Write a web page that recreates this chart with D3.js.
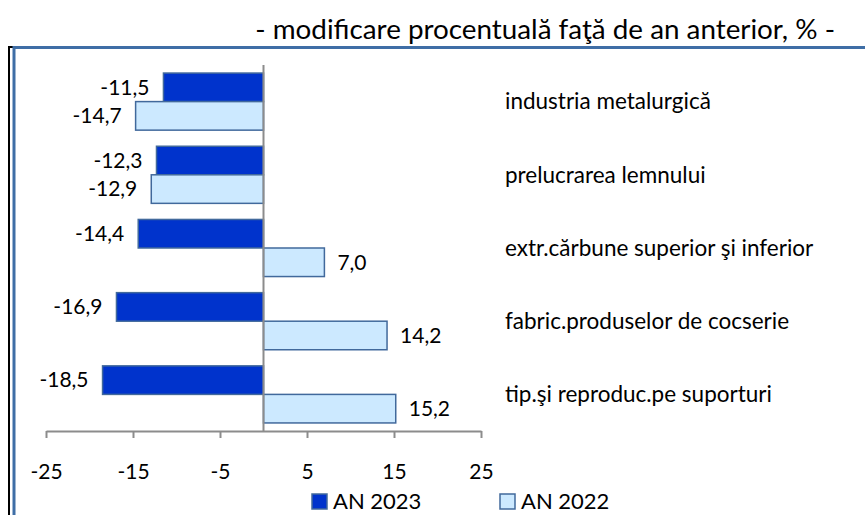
<!DOCTYPE html>
<html>
<head>
<meta charset="utf-8">
<script src="https://cdn.jsdelivr.net/npm/d3@7"></script>
<style>
  body { margin: 0; background: #fff; }
  svg { display: block; font-family: Lato, 'Open Sans', sans-serif; }
</style>
</head>
<body>
<svg id="chart"></svg>
<script>
// chart data
const categories = [
  'industria metalurgică',
  'prelucrarea lemnului',
  'extr.cărbune superior şi inferior',
  'fabric.produselor de cocserie',
  'tip.şi reproduc.pe suporturi'
];
const seriesNames = ['AN 2023', 'AN 2022'];
const values2023 = [-11.5, -12.3, -14.4, -16.9, -18.5];
const values2022 = [-14.7, -12.9, 7.0, 14.2, 15.2];
const tickValues = [-25, -15, -5, 5, 15, 25];
const subtitle = '- modificare procentuală faţă de an anterior, % -';

const colors = { 'AN 2023': '#0033cc', 'AN 2022': '#cce9ff' };
const barStroke = '#41699c';

const W = 865, H = 515;
const svg = d3.select('#chart').attr('width', W).attr('height', H);

// frame
svg.append('path')
  .attr('d', `M9,${H} V47 H14`)
  .attr('fill', 'none').attr('stroke', '#000').attr('stroke-width', 2);
svg.append('path')
  .attr('d', `M14,${H} V47.5 H${W}`)
  .attr('fill', 'none').attr('stroke', '#3f6ea6').attr('stroke-width', 3);

// subtitle
svg.append('text')
  .attr('x', 835).attr('y', 39)
  .attr('text-anchor', 'end')
  .attr('font-size', 27.8)
  .attr('fill', '#000')
  .text(subtitle);

const x = d3.scaleLinear().domain([-25, 25]).range([46, 481]);
const y = d3.scaleBand().domain(categories).range([65, 431])
  .paddingInner(0.22).paddingOuter(0.11);
const ySub = d3.scaleBand().domain(seriesNames).range([0, y.bandwidth()]);

const rows = categories.map((c, i) => ({
  cat: c,
  vals: [
    { s: 'AN 2023', v: values2023[i] },
    { s: 'AN 2022', v: values2022[i] }
  ]
}));

const g = svg.append('g');

// bars
const groups = g.selectAll('.cat')
  .data(rows)
  .enter()
  .append('g')
  .attr('class', 'cat')
  .attr('transform', d => `translate(0,${y(d.cat)})`);

groups.selectAll('rect')
  .data(d => d.vals)
  .enter()
  .append('rect')
  .attr('x', d => x(Math.min(0, d.v)))
  .attr('y', d => ySub(d.s))
  .attr('width', d => Math.abs(x(d.v) - x(0)))
  .attr('height', ySub.bandwidth())
  .attr('fill', d => colors[d.s])
  .attr('stroke', barStroke)
  .attr('stroke-width', 1.5);

// value labels
const fmt = v => d3.format('.1f')(v).replace('.', ',').replace('−', '-');
groups.selectAll('.val')
  .data(d => d.vals)
  .enter()
  .append('text')
  .attr('class', 'val')
  .attr('x', d => d.v < 0 ? x(d.v) - 14 : x(d.v) + 13)
  .attr('y', d => ySub(d.s) + ySub.bandwidth() / 2)
  .attr('dy', '0.35em')
  .attr('text-anchor', d => d.v < 0 ? 'end' : 'start')
  .attr('font-size', 21)
  .attr('fill', '#000')
  .text(d => fmt(d.v));

// zero line
g.append('line')
  .attr('x1', x(0)).attr('x2', x(0))
  .attr('y1', 65).attr('y2', 431)
  .attr('stroke', '#8c8c8c').attr('stroke-width', 2);

// x axis
const axis = g.append('g')
  .attr('transform', 'translate(0,431)')
  .call(d3.axisBottom(x).tickValues(tickValues).tickSize(7).tickSizeOuter(0)
    .tickPadding(26).tickFormat(d3.format('d')));
axis.select('.domain').attr('stroke', '#8c8c8c').attr('stroke-width', 2);
axis.selectAll('.tick line').attr('stroke', '#8c8c8c').attr('stroke-width', 2);
axis.selectAll('.tick text')
  .attr('font-size', 21).attr('font-family', 'Lato, sans-serif').attr('fill', '#000')
  .text(d => String(d).replace('−', '-'));

// category labels
g.selectAll('.catlabel')
  .data(categories)
  .enter()
  .append('text')
  .attr('class', 'catlabel')
  .attr('x', 505)
  .attr('y', d => y(d) + y.bandwidth() / 2)
  .attr('dy', '0.35em')
  .attr('font-size', 22.5)
  .attr('fill', '#000')
  .text(d => d);

// legend
const legendX = [312, 500];
const legend = svg.selectAll('.legend')
  .data(seriesNames)
  .enter()
  .append('g')
  .attr('class', 'legend')
  .attr('transform', (d, i) => `translate(${legendX[i]},494)`);
legend.append('rect')
  .attr('width', 15).attr('height', 15)
  .attr('fill', d => colors[d])
  .attr('stroke', barStroke).attr('stroke-width', 1.5);
legend.append('text')
  .attr('x', 21).attr('y', 7.5).attr('dy', '0.35em')
  .attr('font-size', 22)
  .attr('fill', '#000')
  .text(d => d);
</script>
</body>
</html>
